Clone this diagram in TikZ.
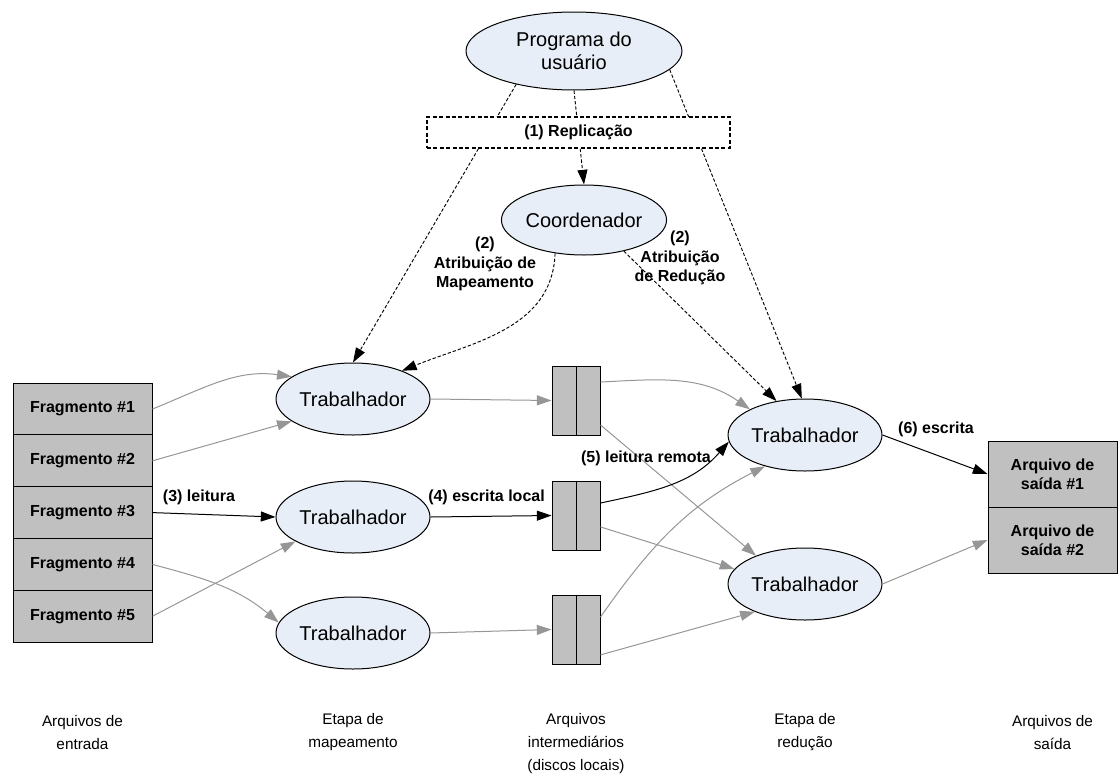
\documentclass[tikz,border=0pt]{standalone}
\usepackage{fontspec}
\setmainfont{Liberation Sans}
\usetikzlibrary{arrows.meta,shapes.geometric}

\definecolor{ellfill}{RGB}{232,238,247}
\definecolor{boxfill}{RGB}{192,192,192}
\definecolor{flowgray}{RGB}{150,150,150}

\begin{document}
\begin{tikzpicture}[x=0.75pt,y=-0.75pt,
  tipped/.style={-{Triangle[length=11pt,width=7.5pt]}},
  worker/.style={ellipse,draw,line width=0.75pt,fill=ellfill,inner sep=0pt,
    minimum width=115.5pt,minimum height=54pt,align=center,
    font=\fontsize{15}{17.25}\selectfont},
  cell/.style={rectangle,draw,line width=0.75pt,fill=boxfill,inner sep=0pt,
    align=center,font=\bfseries\fontsize{12}{14.5}\selectfont},
  frag/.style={cell,minimum width=104.25pt,minimum height=38.85pt},
  outcell/.style={cell,minimum width=96.75pt,minimum height=49.5pt},
  interm/.style={cell,minimum width=36pt,minimum height=51.75pt},
  lbl/.style={inner sep=0pt,align=center,font=\bfseries\fontsize{12}{14.5}\selectfont},
  caption/.style={inner sep=0pt,align=center,font=\fontsize{11.5}{17.25}\selectfont},
  flow/.style={tipped,draw=flowgray,line width=0.75pt},
  main/.style={tipped,draw=black,line width=0.75pt},
  dsh/.style={-{Triangle[length=11pt,width=7.5pt,sep=0pt]},draw=black,line width=0.7pt,
    dash pattern=on 2.5pt off 1.5pt}
]
\useasboundingbox (0,0) rectangle (1120,778);

% user program and coordinator
\node[worker,minimum width=162pt,minimum height=58.5pt] (prog) at (574,51) {Programa do\\usuário};
\node[worker,minimum width=123.75pt,minimum height=52.5pt] (coord) at (584,220) {Coordenador};

% input splits
\node[frag] (f1) at (82.5,409) {Fragmento \#1};
\node[frag] (f2) at (82.5,460.8) {Fragmento \#2};
\node[frag] (f3) at (82.5,512.6) {Fragmento \#3};
\node[frag] (f4) at (82.5,564.4) {Fragmento \#4};
\node[frag] (f5) at (82.5,616.2) {Fragmento \#5};

% map workers
\node[worker] (tm1) at (353,399) {Trabalhador};
\node[worker] (tm2) at (353,517) {Trabalhador};
\node[worker] (tm3) at (353,633) {Trabalhador};

% intermediate files on local disks
\node[interm] (b1) at (576,400.5) {};
\node[interm] (b2) at (576,515.5) {};
\node[interm] (b3) at (576,629.5) {};
\foreach \b in {b1,b2,b3} \draw[line width=0.75pt] (\b.north) -- (\b.south);

% reduce workers
\node[worker] (tr1) at (805,435) {Trabalhador};
\node[worker] (tr2) at (805,584) {Trabalhador};

% output files
\node[outcell] (o1) at (1052.5,474) {Arquivo de\\saída \#1};
\node[outcell] (o2) at (1052.5,540) {Arquivo de\\saída \#2};

% fork lines from the user program
\draw[dsh] (prog.210) -- (tm1.north);
\draw[dsh] (prog.south) -- (coord.north);
\draw[dsh] (prog.-11) -- (tr1.95);

% assignments from the coordinator
\draw[dsh] (coord.229) to[out=-92,in=22] (tm1.30);
\draw[dsh] (coord.-38) -- (tr1.130);

% reading the splits
\draw[flow] (f1.east) to[out=22,in=172] (tm1.160);
\draw[flow] (f2.east) -- (tm1.200);
\draw[main] (f3.east) -- (tm2.west);
\draw[flow] (f4.east) to[out=-15,in=140] (tm3.172);
\draw[flow] (f5.east) -- (tm2.203);

% local writes
\draw[flow] (tm1.east) -- (b1.west);
\draw[main] (tm2.east) -- (b2.west);
\draw[flow] (tm3.east) -- (b3.west);

% remote reads
\draw[flow] (b1.37) to[out=3,in=145] (tr1.155);
\draw[flow] (b1.-45) -- (tr2.150);
\draw[main] (b2.27) to[out=12,in=229] (tr1.185);
\draw[flow] (b2.-25) -- (tr2.168);
\draw[flow] (b3.27) to[out=55,in=207] (tr1.218);
\draw[flow] (b3.-46) -- (tr2.209);

% final writes
\draw[main] (tr1.east) -- (o1.west);
\draw[flow] (tr2.east) -- (o2.west);

% replication box over the fork lines
\node[draw,fill=white,line width=1.2pt,dash pattern=on 3pt off 1.8pt,
  minimum width=227.25pt,minimum height=23.25pt,inner sep=0pt,
  font=\bfseries\fontsize{12}{14.5}\selectfont] (rep) at (578.5,132.5) {(1) Replicação};

% step labels
\node[lbl] (l3) at (199,497) {(3) leitura};
\node[lbl,anchor=west] (l4) at (428,497) {(4) escrita local};
\node[lbl] (l5) at (646,458) {(5) leitura remota};
\node[lbl] (l6) at (936,429) {(6) escrita};
\node[lbl] (l2m) at (485,264) {(2)\\Atribuição de\\Mapeamento};
\node[lbl] (l2r) at (680,258) {(2)\\Atribuição\\de Redução};

% column captions
\node[caption] (c1) at (82.5,732.5) {Arquivos de\\entrada};
\node[caption] (c2) at (353,732.5) {Etapa de\\mapeamento};
\node[caption] (c3) at (576,744) {Arquivos\\intermediários\\(discos locais)};
\node[caption] (c4) at (805,732.5) {Etapa de\\redução};
\node[caption] (c5) at (1052.5,732.5) {Arquivos de\\saída};
\end{tikzpicture}
\end{document}
